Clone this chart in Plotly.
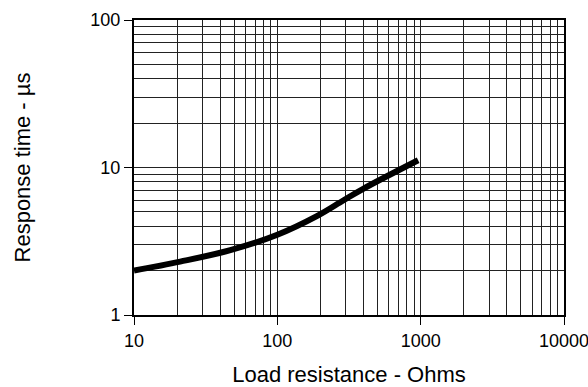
import plotly.graph_objects as go

# Data
load_ohms = [10, 21, 47, 100, 190, 290, 400, 960]
response_us = [2.0, 2.3, 2.75, 3.5, 4.7, 6.0, 7.2, 11.2]

x_tickvals = [10, 100, 1000, 10000]
x_ticktext = ["10", "100", "1000", "10000"]
y_tickvals = [1, 10, 100]
y_ticktext = ["1", "10", "100"]

fig = go.Figure()
fig.add_trace(go.Scatter(
    x=load_ohms, y=response_us, mode="lines",
    line=dict(color="black", width=6, shape="spline", smoothing=1.0),
    showlegend=False, hoverinfo="skip",
))

font = "Liberation Sans, Arial, sans-serif"
axis_common = dict(
    type="log",
    showline=True, linecolor="black", linewidth=2, mirror=True,
    ticks="outside", ticklen=8, tickcolor="black", tickwidth=1,
    showgrid=True, gridcolor="#222", gridwidth=1,
    minor=dict(dtick="D1", showgrid=True, gridcolor="#222", gridwidth=1, ticks=""),
    tickfont=dict(family=font, size=18, color="black"),
    ticklabeloverflow="allow",
    zeroline=False, automargin=False,
)

fig.update_layout(
    width=588, height=387,
    margin=dict(l=134, r=24, t=20, b=72),
    paper_bgcolor="white", plot_bgcolor="white",
    xaxis=dict(
        axis_common, range=[1, 4],
        tickvals=x_tickvals, ticktext=x_ticktext,
        title=dict(text="Load resistance - Ohms", font=dict(family=font, size=22, color="black"), standoff=17),
    ),
    yaxis=dict(
        axis_common, range=[0, 2],
        tickvals=y_tickvals, ticktext=y_ticktext,
        title=dict(text="Response time - µs", font=dict(family=font, size=22, color="black"), standoff=54),
    ),
)

fig.write_html("out.html")
